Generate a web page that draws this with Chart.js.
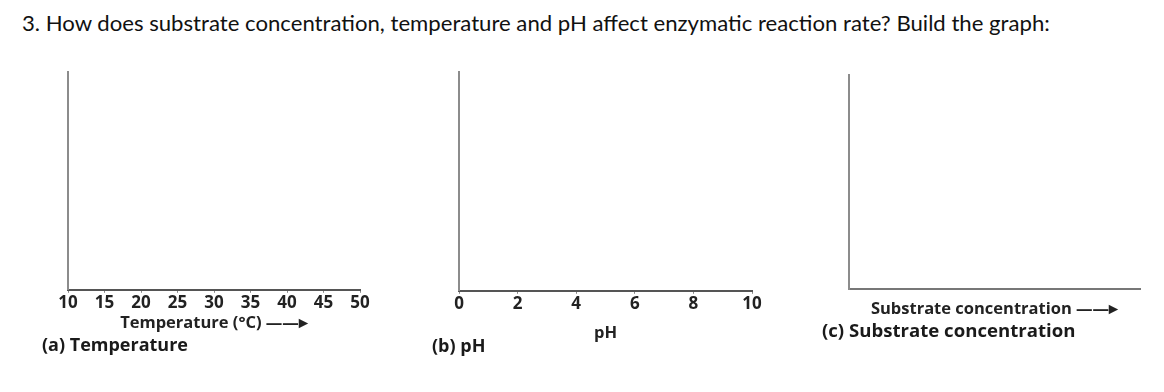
<!DOCTYPE html>
<html>
<head>
<meta charset="utf-8">
<script src="https://cdn.jsdelivr.net/npm/chart.js@4.4.1/dist/chart.umd.min.js"></script>
<style>
  body { margin: 0; background: #fff; width: 1164px; height: 392px; overflow: hidden; position: relative; }
  #heading { position: absolute; left: 22px; top: 10px; font-family: Lato, "Open Sans", sans-serif; font-size: 21px; color: #111; white-space: nowrap; transform-origin: 0 0; }
  .cap { position: absolute; font-family: "Open Sans", sans-serif; font-weight: 700; font-size: 18px; color: #1a1a1a; white-space: nowrap; }
  canvas { position: absolute; }
</style>
</head>
<body>
<div id="heading">3. How does substrate concentration, temperature and pH affect enzymatic reaction rate? Build the graph:</div>

<canvas id="chartTemp" width="370" height="300" style="left:20px;top:56px"></canvas>
<canvas id="chartPH" width="340" height="300" style="left:430px;top:56px"></canvas>
<canvas id="chartSub" width="340" height="300" style="left:820px;top:56px"></canvas>

<div class="cap" style="left:42px;top:332px">(a) Temperature</div>
<div class="cap" style="left:432px;top:333px">(b) pH</div>
<div class="cap" style="left:822px;top:317px;font-size:18.6px">(c) Substrate concentration</div>

<script>
// stretch heading to the width it has in the picture
const heading = document.getElementById('heading');
heading.style.transform = 'scaleX(' + (1028 / heading.offsetWidth) + ')';

// tick values along each x axis
const tempTicks = [10, 15, 20, 25, 30, 35, 40, 45, 50];
const phTicks = [0, 2, 4, 6, 8, 10];

// the graphs are left empty for the student to draw
const tempRate = [];
const phRate = [];
const subRate = [];

const tickFont = { family: 'Open Sans', size: 17, weight: 'bold' };
const titleFont = { family: 'Open Sans', size: 16.5, weight: 'bold' };

function yAxis(color) {
    return {
        min: 0,
        max: 1,
        ticks: { display: false },
        grid: { display: false, drawTicks: false },
        border: { display: true, color: color, width: 2 }
    };
}

function makeChart(id, data, xs, pad) {
    return new Chart(document.getElementById(id).getContext('2d'), {
        type: 'line',
        data: {
            datasets: [{
                data: data,
                borderColor: '#b22',
                borderWidth: 2,
                pointRadius: 0
            }]
        },
        options: {
            responsive: false,
            animation: false,
            layout: { padding: pad },
            plugins: { legend: { display: false }, tooltip: { enabled: false } },
            scales: { x: xs, y: yAxis('#8c8c8c') }
        }
    });
}

makeChart('chartTemp', tempRate, {
    type: 'linear',
    min: tempTicks[0],
    max: tempTicks[tempTicks.length - 1],
    afterBuildTicks: function (axis) { axis.ticks = tempTicks.map(v => ({ value: v })); },
    ticks: { color: '#222', font: tickFont, padding: 0 },
    grid: { drawOnChartArea: false, drawTicks: true, tickLength: 3, color: '#888' },
    border: { color: '#555', width: 2 },
    title: { display: true, text: 'Temperature (°C) ——▸', color: '#222', font: titleFont, padding: { top: 0, bottom: 0 } }
}, { left: 48, right: 30, top: 16, bottom: 23 });

makeChart('chartPH', phRate, {
    type: 'linear',
    min: phTicks[0],
    max: phTicks[phTicks.length - 1],
    afterBuildTicks: function (axis) { axis.ticks = phTicks.map(v => ({ value: v })); },
    ticks: { color: '#222', font: tickFont, padding: 0 },
    grid: { drawOnChartArea: false, drawTicks: true, tickLength: 3, color: '#888' },
    border: { color: '#555', width: 2 },
    title: { display: true, text: 'pH', color: '#222', font: titleFont, padding: { top: 9, bottom: 0 } }
}, { left: 29, right: 18, top: 16, bottom: 13 });

makeChart('chartSub', subRate, {
    type: 'linear',
    min: 0,
    max: 1,
    ticks: { display: false },
    grid: { display: false, drawTicks: false },
    border: { color: '#777', width: 2 },
    title: { display: true, text: 'Substrate concentration ——▸', color: '#222', font: titleFont, padding: { top: 10, bottom: 0 } }
}, { left: 29, right: 20, top: 19, bottom: 37 });
</script>
</body>
</html>
